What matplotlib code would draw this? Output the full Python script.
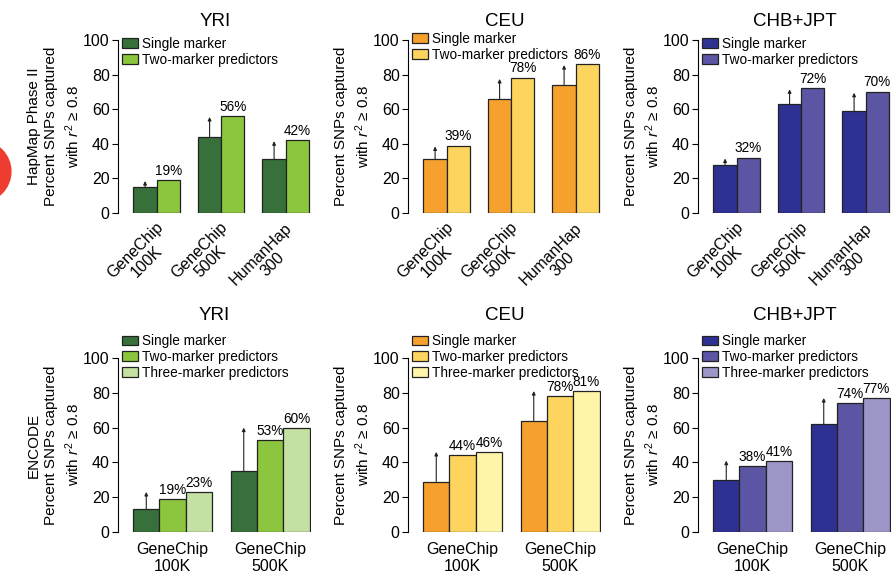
import matplotlib
matplotlib.use("Agg")
import matplotlib.pyplot as plt
from matplotlib.patches import Ellipse

plt.rcParams['font.family'] = ['Liberation Sans', 'DejaVu Sans']
plt.rcParams['mathtext.fontset'] = 'custom'
plt.rcParams['mathtext.rm'] = 'Liberation Sans'
plt.rcParams['mathtext.it'] = 'Liberation Sans:italic'

populations = ['YRI', 'CEU', 'CHB+JPT']

# HapMap Phase II (top row)
hapmap_chips = ['GeneChip\n100K', 'GeneChip\n500K', 'HumanHap\n300']
hapmap_single = [[15, 44, 31], [31, 66, 74], [28, 63, 59]]
hapmap_two = [[19, 56, 42], [39, 78, 86], [32, 72, 70]]

# ENCODE (bottom row)
encode_chips = ['GeneChip\n100K', 'GeneChip\n500K']
encode_single = [[13, 35], [29, 64], [30, 62]]
encode_two = [[19, 53], [44, 78], [38, 74]]
encode_three = [[23, 60], [46, 81], [41, 77]]

series_names = ['Single marker', 'Two-marker predictors', 'Three-marker predictors']
colors = [
    ['#37703a', '#8cc63f', '#c4e0a3'],
    ['#f6a12e', '#fdd55e', '#fff5a8'],
    ['#2e3192', '#5b55a3', '#9d96c9'],
]

fig = plt.figure(figsize=(8.94, 5.78), dpi=100)
W, H = 894, 578
lefts = [118, 408, 698]
top_legend_y = [1.04, 1.07, 1.04]
ylabel = 'Percent SNPs captured\nwith $r^2$ \u2265 0.8'


def style_axis(ax):
    for s in ['top', 'right', 'bottom']:
        ax.spines[s].set_visible(False)
    ax.spines['left'].set_bounds(0, 100)
    ax.spines['left'].set_linewidth(0.8)
    ax.set_ylim(0, 100)
    ax.set_yticks([0, 20, 40, 60, 80, 100])
    ax.tick_params(axis='y', labelsize=11.5, length=4, width=0.8, pad=2)
    ax.tick_params(axis='x', length=0)


def draw_arrow(ax, x, y0, y1):
    ax.annotate('', xy=(x, y1), xytext=(x, y0),
                arrowprops=dict(arrowstyle='-|>', lw=0.8, color='#222222',
                                mutation_scale=5, shrinkA=0, shrinkB=0))


def add_legend(ax, y):
    ax.legend(loc='upper left', bbox_to_anchor=(0.0, y), frameon=False,
              fontsize=9.8, handlelength=1.2, handleheight=0.75,
              handletextpad=0.3, labelspacing=0.12, borderaxespad=0.2,
              borderpad=0.1)


# top row
for p in range(3):
    ax = fig.add_axes([lefts[p] / W, (H - 213) / H, 193.5 / W, 173 / H])
    style_axis(ax)
    ax.set_xlim(-0.6, 2.4)
    bw = 0.36
    xs = list(range(len(hapmap_chips)))
    series = [hapmap_single[p], hapmap_two[p]]
    for k, vals in enumerate(series):
        pos = [x - bw / 2 + k * bw for x in xs]
        ax.bar(pos, vals, width=bw, color=colors[p][k], edgecolor='#222222',
               linewidth=0.9, label=series_names[k], zorder=2)
    for i, x in enumerate(xs):
        draw_arrow(ax, x - bw / 2, hapmap_single[p][i], hapmap_two[p][i] - 0.5)
        ax.text(x + bw / 2, hapmap_two[p][i] + 1.5, f'{hapmap_two[p][i]}%',
                ha='center', va='bottom', fontsize=9.8)
    ax.set_xticks([x - 0.02 for x in xs])
    ax.set_xticklabels(hapmap_chips, rotation=45, ha='right', va='top',
                       rotation_mode='anchor', multialignment='center',
                       fontsize=11.5, linespacing=1.05)
    ax.tick_params(axis='x', pad=5)
    ax.set_title(populations[p], fontsize=13.5, pad=10)
    lab = ylabel if p > 0 else 'HapMap Phase II\n' + ylabel
    ax.set_ylabel(lab, fontsize=11, linespacing=1.3, labelpad=1)
    add_legend(ax, top_legend_y[p])

# bottom row
for p in range(3):
    ax = fig.add_axes([lefts[p] / W, (H - 532) / H, 193 / W, 174 / H])
    style_axis(ax)
    ax.set_xlim(-0.56, 1.42)
    bw = 0.27
    xs = list(range(len(encode_chips)))
    series = [encode_single[p], encode_two[p], encode_three[p]]
    for k, vals in enumerate(series):
        pos = [x + (k - 1) * bw for x in xs]
        ax.bar(pos, vals, width=bw, color=colors[p][k], edgecolor='#222222',
               linewidth=0.9, label=series_names[k], zorder=2)
    for i, x in enumerate(xs):
        draw_arrow(ax, x - bw, encode_single[p][i], encode_three[p][i])
        ax.text(x, encode_two[p][i] + 1.2, f'{encode_two[p][i]}%',
                ha='center', va='bottom', fontsize=9.8)
        ax.text(x + bw, encode_three[p][i] + 1.2, f'{encode_three[p][i]}%',
                ha='center', va='bottom', fontsize=9.8)
    ax.set_xticks(xs)
    ax.set_xticklabels(encode_chips, fontsize=11.5, linespacing=1.15)
    ax.tick_params(axis='x', pad=7)
    ax.set_title(populations[p], fontsize=13.5, y=1.17)
    lab = ylabel if p > 0 else 'ENCODE\n' + ylabel
    ax.set_ylabel(lab, fontsize=11, linespacing=1.3, labelpad=1)
    add_legend(ax, 1.16)

# red marker on the left edge
fig.add_artist(Ellipse((-19.6 / W, (H - 171.5) / H), 61 / W, 61 / H,
                       transform=fig.transFigure, color='#ee3d30', clip_on=False))

fig.savefig('out.png', dpi=100)
